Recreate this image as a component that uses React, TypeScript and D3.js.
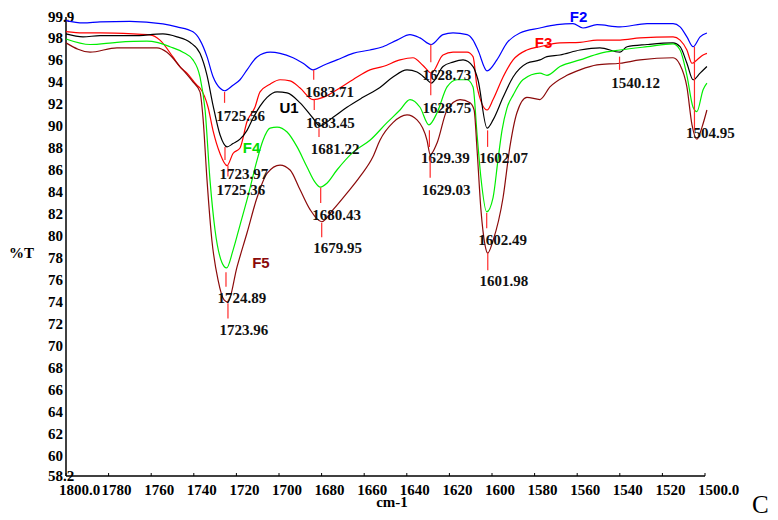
import React from 'react';
import * as d3 from 'd3';

// FTIR spectra, %T against wavenumber (cm-1)
const F2: [number, number][] = [
  [1800, 99.57], [1792, 99.36], [1784, 99.45], [1770, 99.5], [1754.5, 99.27], [1747.9, 99.0],
  [1740.4, 98.55], [1737.1, 97.8], [1733.8, 96.3], [1731.0, 94.5], [1727.5, 93.4], [1725.6, 93.2],
  [1721.6, 93.7], [1718.3, 94.2], [1715.0, 95.1], [1710.3, 96.27], [1704.2, 96.7], [1699.5, 96.6],
  [1693.4, 96.2], [1688.7, 95.7], [1684.0, 95.1], [1679.3, 95.5], [1672.8, 96.0], [1665.3, 96.6],
  [1657.3, 96.9], [1651.2, 97.2], [1644.6, 97.8], [1638.5, 98.3], [1633.8, 98.0], [1628.5, 97.4],
  [1623.0, 98.3], [1618.3, 98.45], [1611.7, 98.3], [1608.9, 97.8], [1606.6, 96.9], [1602.3, 95.0],
  [1597.7, 96.0], [1593.0, 97.55], [1586.9, 98.45], [1577.5, 98.9], [1569.5, 99.2], [1562.0, 99.3],
  [1557.3, 98.9], [1550.7, 99.2], [1539.9, 99.0], [1527.2, 99.3], [1515.0, 99.3], [1511.7, 99.0],
  [1508.5, 98.1], [1505.6, 97.2], [1502.3, 98.1], [1499.1, 98.45],
];

const F3: [number, number][] = [
  [1800, 98.57], [1792, 98.45], [1784, 98.45], [1768.5, 98.36], [1760.6, 98.27], [1755.9, 97.8],
  [1749.8, 96.27], [1746.5, 95.36], [1743.2, 94.8], [1738.5, 93.7], [1737.1, 93.45], [1733.3, 91.7],
  [1731.0, 89.6], [1727.7, 87.5], [1724.4, 86.4], [1721.6, 87.5], [1718.3, 88.0], [1715.0, 90.4],
  [1711.3, 91.7], [1708.9, 93.1], [1704.2, 93.8], [1699.5, 94.2], [1694.8, 94.1], [1690.1, 93.45],
  [1684.0, 92.4], [1679.3, 92.6], [1672.8, 93.3], [1665.3, 94.2], [1657.3, 95.1], [1651.2, 95.4],
  [1643.2, 96.0], [1637.1, 96.2], [1632.4, 95.5], [1628.5, 94.8], [1623.0, 96.45], [1618.3, 96.7],
  [1611.7, 96.7], [1608.9, 96.3], [1607.0, 93.55], [1602.3, 91.45], [1599.5, 92.4], [1594.8, 94.45],
  [1590.1, 96.0], [1583.6, 96.9], [1577.5, 97.2], [1568.1, 97.55], [1558.7, 97.6], [1550.7, 97.8],
  [1539.9, 97.8], [1530.5, 98.0], [1515.0, 98.1], [1511.7, 97.8], [1508.5, 96.9], [1506.1, 95.7],
  [1503.8, 96.0], [1500.9, 96.45], [1499.1, 96.6],
];

const U1: [number, number][] = [
  [1800, 98.36], [1792, 98.1], [1784, 98.2], [1768.5, 98.2], [1754.5, 98.36], [1747.9, 98.1],
  [1741.8, 97.6], [1737.1, 96.6], [1733.8, 94.6], [1731.0, 91.9], [1727.7, 89.2], [1724.4, 88.1],
  [1721.6, 88.4], [1718.3, 88.8], [1715.0, 89.6], [1712.2, 90.7], [1708.9, 91.8], [1705.6, 92.6],
  [1700.9, 93.1], [1696.2, 93.0], [1690.1, 92.1], [1684.0, 90.7], [1680.8, 90.0], [1674.6, 90.8],
  [1668.1, 91.7], [1660.6, 92.6], [1652.6, 93.5], [1646.5, 94.45], [1639.9, 95.1], [1635.2, 94.9],
  [1630.5, 94.2], [1628.5, 93.9], [1623.0, 95.4], [1618.3, 95.8], [1613.6, 96.0], [1608.9, 95.4],
  [1606.6, 94.2], [1602.3, 89.8], [1599.5, 90.55], [1594.8, 92.6], [1590.1, 94.45], [1583.6, 95.7],
  [1577.5, 96.0], [1574.2, 96.3], [1568.1, 96.45], [1558.7, 96.9], [1549.3, 97.1], [1539.9, 96.7],
  [1536.6, 97.2], [1527.2, 97.4], [1515.0, 97.55], [1511.7, 97.2], [1508.5, 95.7], [1505.6, 94.2],
  [1502.3, 94.8], [1499.1, 95.4],
];

const F4: [number, number][] = [
  [1800, 97.9], [1788.7, 97.4], [1776.1, 97.6], [1762.0, 97.7], [1757.3, 97.6], [1751.2, 97.2],
  [1745.1, 96.7], [1740.4, 96.0], [1737.1, 94.45], [1734.7, 91.45], [1732.4, 85.1], [1730.0, 80.5],
  [1726.8, 77.6], [1724.6, 77.1], [1721.6, 78.7], [1718.3, 81.0], [1715.0, 83.3], [1710.3, 86.9],
  [1707.5, 88.7], [1704.2, 89.8], [1700.9, 89.9], [1696.2, 89.45], [1691.5, 88.1], [1686.9, 86.3],
  [1683.1, 84.9], [1680.6, 84.45], [1677.5, 84.8], [1672.8, 86.0], [1665.3, 87.6], [1657.3, 88.7],
  [1649.3, 90.3], [1643.2, 91.45], [1638.5, 92.4], [1633.8, 91.7], [1629.6, 90.1], [1625.8, 91.2],
  [1621.1, 93.55], [1616.4, 94.2], [1611.7, 94.2], [1608.9, 93.55], [1607.0, 89.2], [1605.2, 85.3],
  [1602.5, 82.2], [1599.5, 83.5], [1597.2, 86.9], [1595.3, 89.6], [1593.0, 91.6], [1590.1, 92.8],
  [1585.5, 94.2], [1577.5, 94.8], [1574.2, 94.6], [1568.1, 95.4], [1558.7, 96.0], [1549.3, 96.6],
  [1539.9, 96.9], [1527.2, 97.2], [1515.0, 97.45], [1511.7, 96.9], [1508.5, 94.6], [1505.6, 91.7],
  [1503.8, 91.3], [1500.9, 93.3], [1499.1, 93.9],
];

const F5: [number, number][] = [
  [1800, 97.55], [1788.7, 96.7], [1776.1, 97.1], [1757.3, 97.1], [1752.6, 96.7], [1746.5, 95.4],
  [1740.4, 94.0], [1737.1, 93.1], [1735.7, 90.8], [1733.8, 85.1], [1731.5, 79.6], [1728.6, 76.0],
  [1725.8, 74.2], [1724.0, 74.0], [1719.7, 77.2], [1715.0, 80.3], [1710.3, 83.5], [1705.6, 85.7],
  [1699.5, 86.45], [1694.8, 86.0], [1690.1, 84.2], [1685.4, 82.4], [1680.0, 81.3], [1674.6, 82.4],
  [1668.1, 83.9], [1662.0, 85.4], [1655.9, 87.2], [1652.6, 88.7], [1646.5, 90.3], [1639.9, 91.0],
  [1635.2, 90.55], [1630.5, 88.7], [1629.0, 87.4], [1625.8, 88.45], [1621.1, 91.45], [1615.0, 92.4],
  [1610.3, 92.1], [1608.4, 91.45], [1607.0, 87.8], [1605.2, 82.4], [1603.3, 79.2], [1602.0, 78.45],
  [1599.5, 79.6], [1594.8, 83.5], [1591.6, 88.1], [1588.3, 91.2], [1583.6, 92.6], [1577.5, 92.4],
  [1572.8, 93.55], [1564.8, 94.6], [1558.7, 95.1], [1550.7, 95.55], [1539.9, 95.7], [1530.5, 96.0],
  [1515.0, 96.2], [1511.7, 95.55], [1508.5, 93.55], [1506.1, 90.1], [1503.8, 88.8], [1501.4, 89.9],
  [1499.1, 91.45],
];

const seriesNames = ['F2', 'F3', 'U1', 'F4', 'F5'];
const seriesData = [F2, F3, U1, F4, F5];
const seriesColors = ['#0000ff', '#ff0000', '#000000', '#00ee00', '#8b0a0a'];
// where each series name sits: [wavenumber, %T]
const seriesLabelAt: [number, number][] = [
  [1559.4, 99.45], [1575.8, 97.1], [1695.3, 91.2], [1712.9, 87.55], [1708.5, 77.1],
];

// peak picks: label, marker top %T, marker bottom %T, label baseline %T
const peakLabels = ['1725.56', '1683.71', '1683.45', '1681.22', '1628.73', '1628.75', '1629.39', '1629.03',
  '1723.97', '1725.36', '1680.43', '1679.95', '1724.89', '1723.96', '1602.07', '1602.49', '1601.98',
  '1540.12', '1504.95'];
const peakTop = [93.1, 95.1, 92.4, 89.8, 97.4, 94.8, 89.6, 87.2, 86.4, 88.1, 84.4, 81.2, 76.7, 73.9, 89.6, 82.1, 78.45, 96.3, 97.2];
const peakBottom = [92.1, 94.2, 91.45, 89.0, 95.8, 92.8, 88.1, 85.3, 85.4, 86.9, 83.0, 79.9, 75.4, 72.5, 88.1, 80.7, 76.9, 95.1, 89.6];
const peakTextAt = [90.45, 92.6, 89.8, 87.45, 94.2, 91.2, 86.6, 83.7, 85.2, 83.7, 81.45, 78.45, 73.9, 71.0, 86.6, 79.2, 75.45, 93.45, 88.9];

const xTicks = [1800, 1780, 1760, 1740, 1720, 1700, 1680, 1660, 1640, 1620, 1600, 1580, 1560, 1540, 1520, 1500];
const yTicks = [60, 62, 64, 66, 68, 70, 72, 74, 76, 78, 80, 82, 84, 86, 88, 90, 92, 94, 96, 98];

const W = 778;
const H = 520;
const serif = '"Liberation Serif", "Times New Roman", serif';
const sans = '"Liberation Sans", Arial, sans-serif';

export default function App() {
  const x = d3.scaleLinear().domain([1800, 1500]).range([66, 705]);
  const y = d3.scaleLinear().domain([58.2, 99.9]).range([476, 17]);
  const line = d3.line<[number, number]>()
    .x(d => x(d[0]))
    .y(d => y(d[1]))
    .curve(d3.curveMonotoneX);

  const xLabel = (t: number) => (t === 1800 || t === 1500 ? t.toFixed(1) : String(t));

  return (
    <svg width={W} height={H} style={{ position: 'absolute', left: 0, top: 0, background: '#fff' }}>
      {/* axes */}
      <line x1={x(1800)} x2={x(1800)} y1={y(99.9)} y2={y(58.2)} stroke="#000" strokeWidth={1.5} />
      <line x1={x(1800)} x2={x(1500)} y1={y(58.2)} y2={y(58.2)} stroke="#000" strokeWidth={1.5} />
      {xTicks.map(t => (
        <g key={t}>
          <line x1={x(t)} x2={x(t)} y1={y(58.2)} y2={y(58.2) - 3} stroke="#000" strokeWidth={1} />
          <text x={x(t) - 7} y={495} fontFamily={serif} fontWeight="bold" fontSize={15} fill="#000">
            {xLabel(t)}
          </text>
        </g>
      ))}
      {yTicks.map(t => (
        <text key={t} x={48} y={y(t)} dy="0.35em" fontFamily={serif} fontWeight="bold" fontSize={15} fill="#000">
          {t}
        </text>
      ))}
      <text x={48} y={y(99.9)} dy="0.35em" fontFamily={serif} fontWeight="bold" fontSize={15}>99.9</text>
      <text x={48} y={y(58.2)} dy="0.35em" fontFamily={serif} fontWeight="bold" fontSize={15}>58.2</text>
      <text x={9} y={258} fontFamily={serif} fontWeight="bold" fontSize={15}>%T</text>
      <text x={392} y={507} textAnchor="middle" fontFamily={serif} fontWeight="bold" fontSize={15}>cm-1</text>
      <text x={752} y={513} fontFamily={serif} fontSize={25}>C</text>

      {/* spectra */}
      {seriesData.map((d, i) => (
        <path key={seriesNames[i]} d={line(d) || ''} fill="none" stroke={seriesColors[i]} strokeWidth={1.2} />
      ))}

      {/* peak markers */}
      {peakLabels.map((p, i) => {
        const px = x(parseFloat(p));
        return (
          <g key={p + i}>
            <line x1={px} x2={px} y1={y(peakTop[i])} y2={y(peakBottom[i])} stroke="#ff2a2a" strokeWidth={1.2} />
            <text x={px + 16} y={y(peakTextAt[i])} textAnchor="middle" fontFamily={serif} fontWeight="bold" fontSize={15} fill="#111">
              {p}
            </text>
          </g>
        );
      })}

      {/* series names */}
      {seriesNames.map((n, i) => (
        <text key={n} x={x(seriesLabelAt[i][0])} y={y(seriesLabelAt[i][1])} textAnchor="middle"
          fontFamily={sans} fontWeight="bold" fontSize={15} fill={seriesColors[i] === '#00ee00' ? '#00dd00' : seriesColors[i]}>
          {n}
        </text>
      ))}
    </svg>
  );
}
